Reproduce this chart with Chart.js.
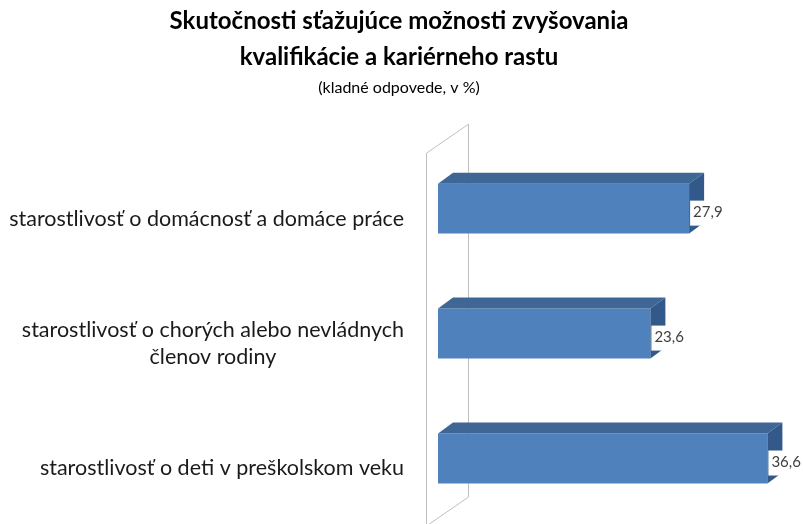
<!DOCTYPE html>
<html>
<head>
<meta charset="utf-8">
<script src="https://cdn.jsdelivr.net/npm/chart.js@4.4.0/dist/chart.umd.min.js"></script>
<style>
  html, body { margin: 0; padding: 0; background: #fff; }
  #wrap { width: 803px; height: 524px; }
</style>
</head>
<body>
<div id="wrap"><canvas id="graf"></canvas></div>
<script>
// Dáta z grafu (kladné odpovede, v %)
const kategorie = [
    ['starostlivosť o domácnosť a domáce práce'],
    ['starostlivosť o chorých alebo nevládnych', 'členov rodiny'],
    ['starostlivosť o deti v preškolskom veku']
];
const hodnoty = [27.9, 23.6, 36.6];
const osX = { min: 0, max: 40 };

const farbaPredok = '#4F81BD';
const farbaVrch = '#3F6795';
const farbaBok = '#32598A';
const hlbkaX = 15, hlbkaY = 11;
const pismo = 'Lato, "Open Sans", sans-serif';

// Bočná stena 3D grafu
const stena = {
    id: 'stena',
    beforeDatasetsDraw(chart) {
        const { ctx, chartArea: a } = chart;
        ctx.save();
        ctx.strokeStyle = '#BFBFBF';
        ctx.lineWidth = 1;
        ctx.beginPath();
        ctx.moveTo(a.left - 11.5, a.bottom + 6);
        ctx.lineTo(a.left - 11.5, a.top + 7);
        ctx.lineTo(a.left + 30.5, a.top - 22);
        ctx.lineTo(a.left + 30.5, a.bottom - 24);
        ctx.lineTo(a.left - 11.5, a.bottom + 5);
        ctx.stroke();
        ctx.restore();
    }
};

// Horná a bočná plocha stĺpcov + popisky hodnôt
const kvader = {
    id: 'kvader',
    afterDatasetsDraw(chart) {
        const { ctx } = chart;
        const meta = chart.getDatasetMeta(0);
        ctx.save();
        meta.data.forEach((bar, i) => {
            const h = bar.height;
            const top = bar.y - h / 2, bottom = bar.y + h / 2;
            ctx.fillStyle = farbaVrch;
            ctx.beginPath();
            ctx.moveTo(bar.base, top);
            ctx.lineTo(bar.base + hlbkaX, top - hlbkaY);
            ctx.lineTo(bar.x + hlbkaX, top - hlbkaY);
            ctx.lineTo(bar.x, top);
            ctx.closePath();
            ctx.fill();
            ctx.fillStyle = farbaBok;
            ctx.beginPath();
            ctx.moveTo(bar.x, top);
            ctx.lineTo(bar.x + hlbkaX, top - hlbkaY);
            ctx.lineTo(bar.x + hlbkaX, bottom - hlbkaY);
            ctx.lineTo(bar.x, bottom);
            ctx.closePath();
            ctx.fill();

            const txt = hodnoty[i].toFixed(1).replace('.', ',');
            ctx.font = '15px ' + pismo;
            const w = ctx.measureText(txt).width;
            const bx = bar.x + 1, by = bar.y + 4;
            ctx.fillStyle = '#FFFFFF';
            ctx.fillRect(bx, by - 12, w + 6, 25);
            ctx.fillStyle = '#404040';
            ctx.textAlign = 'left';
            ctx.textBaseline = 'middle';
            ctx.fillText(txt, bx + 3, by);
        });
        ctx.restore();
    }
};

// Popisky kategórií (riadky centrované v bloku zarovnanom vpravo)
const popisky = {
    id: 'popisky',
    afterDraw(chart) {
        const { ctx } = chart;
        const y = chart.scales.y;
        const prava = 404;
        ctx.save();
        ctx.font = '21.5px ' + pismo;
        ctx.fillStyle = '#1a1a1a';
        ctx.textAlign = 'center';
        ctx.textBaseline = 'middle';
        kategorie.forEach((riadky, i) => {
            const sirka = Math.max(...riadky.map(r => ctx.measureText(r).width));
            const stred = y.getPixelForTick(i) + 10;
            const vyska = 27;
            riadky.forEach((r, j) => {
                ctx.fillText(r, prava - sirka / 2, stred + (j - (riadky.length - 1) / 2) * vyska);
            });
        });
        ctx.restore();
    }
};

new Chart(document.getElementById('graf'), {
    type: 'bar',
    data: {
        labels: kategorie,
        datasets: [{
            data: hodnoty,
            backgroundColor: farbaPredok,
            borderWidth: 0,
            barPercentage: 0.8,
            categoryPercentage: 0.5
        }]
    },
    options: {
        indexAxis: 'y',
        responsive: true,
        maintainAspectRatio: false,
        animation: false,
        layout: { padding: { left: 0, right: 5, top: 0, bottom: 3 } },
        plugins: {
            legend: { display: false },
            tooltip: { enabled: false },
            title: {
                display: true,
                text: ['Skutočnosti sťažujúce možnosti zvyšovania', 'kvalifikácie a kariérneho rastu'],
                color: '#000',
                font: { family: pismo, size: 24, weight: 'bold', lineHeight: 1.47 },
                padding: { top: 4, bottom: 0 }
            },
            subtitle: {
                display: true,
                text: '(kladné odpovede, v %)',
                color: '#000',
                font: { family: pismo, size: 16, lineHeight: 1.2 },
                padding: { top: 4, bottom: 48.4 }
            }
        },
        scales: {
            x: {
                min: osX.min,
                max: osX.max,
                display: false
            },
            y: {
                ticks: { display: false },
                grid: { display: false },
                border: { display: false },
                afterFit(scale) { scale.width = 438; }
            }
        }
    },
    plugins: [stena, kvader, popisky]
});
</script>
</body>
</html>
